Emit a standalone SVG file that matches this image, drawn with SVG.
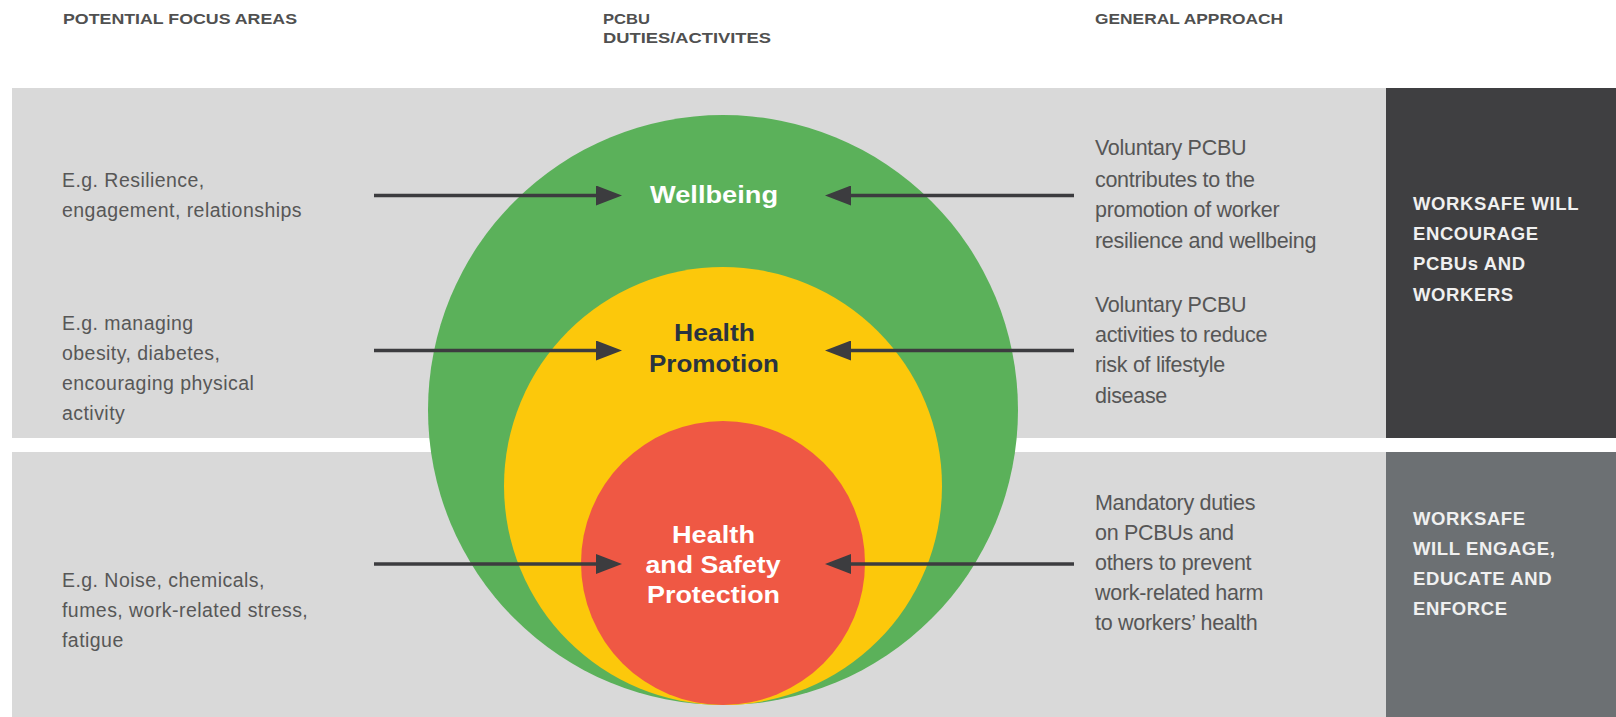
<svg xmlns="http://www.w3.org/2000/svg" width="1616" height="717" viewBox="0 0 1616 717">
  <style>
    .hdr { font-family: "Liberation Sans", Arial, sans-serif; font-size: 15.5px; font-weight: bold; fill: #505050; }
    .lt { font-family: "Liberation Sans", Arial, sans-serif; font-size: 19.5px; fill: #575757; letter-spacing: 0.45px; }
    .rt { font-family: "Liberation Sans", Arial, sans-serif; font-size: 21.5px; fill: #565656; letter-spacing: -0.3px; }
    .box { font-family: "Liberation Sans", Arial, sans-serif; font-size: 18.5px; font-weight: bold; fill: #f0f0f0; letter-spacing: 0.6px; }
    .ctr { font-family: "Liberation Sans", Arial, sans-serif; font-size: 23.5px; font-weight: bold; text-anchor: middle; }
    .band { fill: #d9d9d9; }
    .arrow { stroke: #3c3c3f; stroke-width: 3.5; fill: none; marker-end: url(#head); }
  </style>
  <defs>
    <marker id="head" markerUnits="userSpaceOnUse" markerWidth="26" markerHeight="20" viewBox="0 0 26 20" refX="6" refY="10" orient="auto">
      <path d="M0,0 L26,10 L0,20 Z" fill="#3c3c3f"/>
    </marker>
  </defs>

  <rect x="0" y="0" width="1616" height="717" fill="#ffffff"/>

  <!-- column headings -->
  <g id="headings">
    <text class="hdr" x="63" y="24" textLength="234" lengthAdjust="spacingAndGlyphs">POTENTIAL FOCUS AREAS</text>
    <text class="hdr" x="603" y="24" textLength="47" lengthAdjust="spacingAndGlyphs">PCBU</text>
    <text class="hdr" x="603" y="42.5" textLength="168" lengthAdjust="spacingAndGlyphs">DUTIES/ACTIVITES</text>
    <text class="hdr" x="1095" y="24" textLength="188" lengthAdjust="spacingAndGlyphs">GENERAL APPROACH</text>
  </g>

  <!-- background bands -->
  <g id="bands">
    <rect class="band" x="12" y="88" width="1374" height="350"/>
    <rect x="1386" y="88" width="230" height="350" fill="#3f3f41"/>
    <rect class="band" x="12" y="452" width="1374" height="265"/>
    <rect x="1386" y="452" width="230" height="265" fill="#6c7073"/>
  </g>

  <!-- nested circles -->
  <g id="wellbeing">
    <circle cx="723" cy="410" r="295" fill="#5bb15a"/>
  </g>
  <g id="health-promotion">
    <circle cx="723" cy="486" r="219" fill="#fcc80b"/>
  </g>
  <g id="health-safety-protection">
    <circle cx="723" cy="563" r="142" fill="#ef5844"/>
  </g>

  <!-- circle labels -->
  <g id="circle-labels">
    <text class="ctr" x="714" y="203" fill="#ffffff" textLength="128" lengthAdjust="spacingAndGlyphs">Wellbeing</text>
    <text class="ctr" x="714.5" y="341" fill="#2a3340" textLength="81" lengthAdjust="spacingAndGlyphs">Health</text>
    <text class="ctr" x="714" y="372" fill="#2a3340" textLength="130" lengthAdjust="spacingAndGlyphs">Promotion</text>
    <text class="ctr" x="713.5" y="543" fill="#ffffff" textLength="83" lengthAdjust="spacingAndGlyphs">Health</text>
    <text class="ctr" x="713" y="573" fill="#ffffff" textLength="135" lengthAdjust="spacingAndGlyphs">and Safety</text>
    <text class="ctr" x="713.5" y="603" fill="#ffffff" textLength="133" lengthAdjust="spacingAndGlyphs">Protection</text>
  </g>

  <!-- connectors -->
  <g id="connectors">
    <line class="arrow" x1="374" y1="195.5" x2="602" y2="195.5"/>
    <line class="arrow" x1="1074" y1="195.5" x2="845" y2="195.5"/>
    <line class="arrow" x1="374" y1="350.5" x2="602" y2="350.5"/>
    <line class="arrow" x1="1074" y1="350.5" x2="845" y2="350.5"/>
    <line class="arrow" x1="374" y1="564" x2="602" y2="564"/>
    <line class="arrow" x1="1074" y1="564" x2="845" y2="564"/>
  </g>

  <!-- focus area notes -->
  <g id="focus-wellbeing">
    <text class="lt" x="62" y="186.5">E.g. Resilience,</text>
    <text class="lt" x="62" y="216.5">engagement, relationships</text>
  </g>
  <g id="focus-promotion">
    <text class="lt" x="62" y="330">E.g. managing</text>
    <text class="lt" x="62" y="360">obesity, diabetes,</text>
    <text class="lt" x="62" y="390">encouraging physical</text>
    <text class="lt" x="62" y="420">activity</text>
  </g>
  <g id="focus-protection">
    <text class="lt" x="62" y="586.5">E.g. Noise, chemicals,</text>
    <text class="lt" x="62" y="616.5">fumes, work-related stress,</text>
    <text class="lt" x="62" y="646.5">fatigue</text>
  </g>

  <!-- general approach notes -->
  <g id="approach-wellbeing">
    <text class="rt" x="1095" y="155">Voluntary PCBU</text>
    <text class="rt" x="1095" y="186.5">contributes to the</text>
    <text class="rt" x="1095" y="216.5">promotion of worker</text>
    <text class="rt" x="1095" y="247.5">resilience and wellbeing</text>
  </g>
  <g id="approach-promotion">
    <text class="rt" x="1095" y="311.5">Voluntary PCBU</text>
    <text class="rt" x="1095" y="341.5">activities to reduce</text>
    <text class="rt" x="1095" y="372">risk of lifestyle</text>
    <text class="rt" x="1095" y="403">disease</text>
  </g>
  <g id="approach-protection">
    <text class="rt" x="1095" y="510">Mandatory duties</text>
    <text class="rt" x="1095" y="540">on PCBUs and</text>
    <text class="rt" x="1095" y="570">others to prevent</text>
    <text class="rt" x="1095" y="600">work-related harm</text>
    <text class="rt" x="1095" y="630">to workers’ health</text>
  </g>

  <!-- WorkSafe role panels -->
  <g id="role-encourage">
    <text class="box" x="1413" y="210">WORKSAFE WILL</text>
    <text class="box" x="1413" y="240">ENCOURAGE</text>
    <text class="box" x="1413" y="270">PCBUs AND</text>
    <text class="box" x="1413" y="301">WORKERS</text>
  </g>
  <g id="role-enforce">
    <text class="box" x="1413" y="525">WORKSAFE</text>
    <text class="box" x="1413" y="555">WILL ENGAGE,</text>
    <text class="box" x="1413" y="585">EDUCATE AND</text>
    <text class="box" x="1413" y="615">ENFORCE</text>
  </g>
</svg>
